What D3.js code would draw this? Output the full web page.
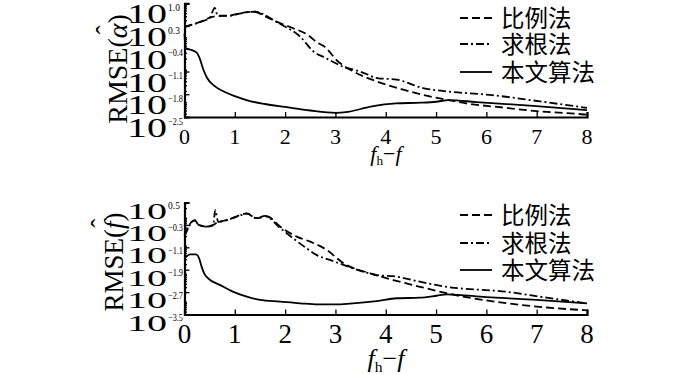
<!DOCTYPE html>
<html><head><meta charset="utf-8">
<script src="https://cdn.jsdelivr.net/npm/d3@7/dist/d3.min.js"></script>
<style>
body{margin:0;background:#fff;}
svg{display:block;}
text{fill:#000;}
</style></head>
<body><svg id="c" width="700" height="375"></svg>
<script>
// ---------- data (values are log10 of RMSE) ----------
const xTicks = [0,1,2,3,4,5,6,7,8];
const legendNames = ["比例法","求根法","本文算法"];

// top panel: RMSE(alpha-hat)
const alphaTicks = [1.0, 0.3, -0.4, -1.1, -1.8, -2.5];
const alphaRatioX = [0,0.3,0.6,0.9,1.0,1.2,1.4,1.6,1.9,2.15,2.45,2.65,2.78,3.05,3.3,3.83,4.35,4.74,5.14,5.6,6.4,7.07,7.6,8];
const alphaRatioY = [0.28,0.42,0.6,0.62,0.66,0.72,0.74,0.6,0.39,0.24,0.03,-0.22,-0.33,-0.79,-1.05,-1.41,-1.66,-1.82,-1.95,-2.08,-2.22,-2.33,-2.38,-2.43];
const alphaRootX = [0,0.3,0.5,0.6,0.66,0.9,1.2,1.4,1.6,1.8,2.3,2.57,2.8,3.15,3.49,3.83,4.22,4.74,5.2,6.07,7.07,8];
const alphaRootY = [0.27,0.42,0.55,0.86,0.62,0.62,0.72,0.74,0.64,0.45,-0.03,-0.49,-0.68,-0.95,-1.1,-1.3,-1.35,-1.61,-1.71,-1.82,-2.02,-2.22];
const alphaOursX = [0,0.02,0.15,0.25,0.3,0.38,0.45,0.6,0.8,1.0,1.3,1.6,2.0,2.5,3.0,3.25,3.7,4.2,4.7,5.0,5.25,5.8,6.93,8];
const alphaOursY = [0.08,-0.38,-0.44,-0.53,-0.69,-1.06,-1.3,-1.55,-1.73,-1.86,-2.01,-2.1,-2.19,-2.3,-2.37,-2.34,-2.18,-2.08,-2.06,-2.03,-1.98,-2.04,-2.16,-2.29];

// bottom panel: RMSE(f-hat)
const fTicks = [0.5, -0.3, -1.1, -1.9, -2.7, -3.5];
const fRatioX = [0,0.08,0.14,0.21,0.28,0.44,0.57,0.67,0.84,1.1,1.24,1.43,1.64,1.9,2.23,2.5,2.83,3.16,3.69,4.15,4.68,5.21,6.41,7.2,8];
const fRatioY = [-0.66,-0.36,-0.19,-0.13,-0.3,-0.36,-0.3,-0.19,-0.13,0.05,0.11,-0.06,0.0,-0.36,-0.72,-0.9,-1.2,-1.67,-2.03,-2.27,-2.51,-2.74,-3.1,-3.25,-3.35];
const fRootX = [0,0.08,0.14,0.21,0.28,0.44,0.57,0.61,0.67,0.84,1.1,1.24,1.43,1.6,1.9,2.16,2.43,2.63,2.89,3.16,3.82,4.22,4.68,5.21,6.41,7.2,8];
const fRootY = [-0.7,-0.4,-0.2,-0.15,-0.3,-0.36,-0.32,0.23,-0.19,-0.13,0.03,0.1,-0.06,0.02,-0.41,-0.78,-1.14,-1.38,-1.55,-1.73,-2.09,-2.15,-2.33,-2.51,-2.69,-2.9,-3.1];
const fOursX = [0,0.03,0.11,0.23,0.29,0.34,0.39,0.47,0.71,0.97,1.24,1.5,1.9,2.3,2.65,3.03,3.29,3.82,4.22,4.68,5.01,5.21,6.0,7.0,8];
const fOursY = [-1.5,-1.44,-1.35,-1.35,-1.49,-1.79,-2.03,-2.21,-2.45,-2.69,-2.86,-2.98,-3.04,-3.1,-3.14,-3.14,-3.11,-3.02,-2.92,-2.9,-2.83,-2.78,-2.88,-2.98,-3.1];

// ---------- drawing ----------
const svg = d3.select("#c");
const serif = "'Liberation Serif','Times New Roman',serif";
const cjk = "'Noto Sans CJK SC',sans-serif";
const dashes = ["8,4", "8,3,2,3", null];

function panel(cfg){
  const x = d3.scaleLinear().domain([0,8]).range([184.5,587]);
  const y = d3.scaleLinear().domain(cfg.domain).range(cfg.range);
  const g = svg.append("g");

  // series
  const line = d3.line().x(d=>x(d[0])).y(d=>y(d[1])).curve(d3.curveMonotoneX);
  cfg.series.forEach((s,i)=>{
    const pts = s[0].map((v,k)=>[v,s[1][k]]);
    g.append("path").attr("d",line(pts)).attr("fill","none")
      .attr("stroke","#000").attr("stroke-width",1.8)
      .attr("stroke-dasharray",dashes[i]);
  });

  // y axis (ticks inside)
  g.append("g").attr("transform",`translate(${x(0)},0)`)
    .call(d3.axisRight(y).tickValues(cfg.ticks).tickSize(5).tickFormat(""));
  // minor log ticks
  const minor=[];
  for(let n=-5;n<=2;n++) for(let k=2;k<=9;k++){const e=n+Math.log10(k); if(e>cfg.domain[0]&&e<cfg.domain[1]) minor.push(e);}
  g.append("g").attr("transform",`translate(${x(0)},0)`)
    .call(d3.axisRight(y).tickValues(minor).tickSize(2.5).tickFormat(""))
    .select(".domain").remove();
  // x axis (ticks inside)
  g.append("g").attr("transform",`translate(0,${y(cfg.domain[0])})`)
    .call(d3.axisTop(x).tickValues(xTicks).tickSize(5).tickFormat(""));
  g.selectAll(".domain").attr("stroke-width",2.2);
  g.selectAll(".tick line").attr("stroke-width",1.3);

  // x tick labels
  g.selectAll(".xl").data(xTicks).enter().append("text")
    .attr("x",d=>x(d)).attr("y",cfg.xLabelY).attr("text-anchor","middle")
    .style("font-family",serif).style("font-size",cfg.xFont+"px").text(d=>d);

  // y tick labels 10^e
  cfg.ticks.forEach(t=>{
    const ty = y(t);
    g.append("text").attr("x",127).attr("y",ty+cfg.tenOff)
      .attr("textLength",40).attr("lengthAdjust","spacingAndGlyphs")
      .style("font-family",serif).style("font-size",cfg.tenFont+"px").text("10");
    const s = d3.format(".1f")(t).replace("-","\u2212");
    const st = g.append("text").attr("x",168).attr("y",ty+cfg.supOff)
      .style("font-family",serif).style("font-size","9.5px").text(s);
    if (t < 0) st.attr("textLength",15).attr("lengthAdjust","spacingAndGlyphs");
  });

  // y title
  const tg = g.append("g").attr("transform",`translate(${cfg.titleX},${cfg.titleY}) rotate(-90)`);
  const tt = tg.append("text").attr("text-anchor","middle")
    .style("font-family",serif).style("font-size",cfg.titleFont+"px");
  tt.append("tspan").text("RMSE(");
  tt.append("tspan").style("font-style","italic").text(cfg.sym);
  tt.append("tspan").text(")");
  const node = tt.node();
  const p = node.getStartPositionOfChar(5);
  const w = node.getSubStringLength(5,1);
  tg.append("text").attr("x",p.x+w/2+cfg.hatDx).attr("y",p.y-cfg.titleFont*cfg.hatRise)
    .attr("text-anchor","middle").style("font-family",serif)
    .style("font-size",cfg.titleFont+"px").text("\u02C6");

  // x title f_h − f
  const xt = g.append("text").attr("x",386).attr("y",cfg.xTitleY).attr("text-anchor","middle")
    .style("font-family",serif).style("font-size",cfg.xTitleFont+"px");
  xt.append("tspan").style("font-style","italic").text("f");
  xt.append("tspan").attr("dy",cfg.xTitleFont*0.2).style("font-size",(cfg.xTitleFont*0.6)+"px").text("h");
  xt.append("tspan").attr("dy",-cfg.xTitleFont*0.2).text("\u2212");
  xt.append("tspan").style("font-style","italic").text("f");

  // legend
  legendNames.forEach((name,i)=>{
    const ly = cfg.legY[i];
    g.append("line").attr("x1",460).attr("x2",492).attr("y1",ly).attr("y2",ly)
      .attr("stroke","#000").attr("stroke-width",1.8).attr("stroke-dasharray",dashes[i]);
    g.append("text").attr("x",501).attr("y",ly+8.5)
      .style("font-family",cjk).style("font-size","23.5px").text(name);
  });
}

panel({
  domain:[-2.5,1.0], range:[117,3.3], ticks:alphaTicks,
  series:[[alphaRatioX,alphaRatioY],[alphaRootX,alphaRootY],[alphaOursX,alphaOursY]],
  xLabelY:144, xFont:22, tenFont:27, tenOff:20, supOff:7.5,
  titleX:127, titleY:69, titleFont:28, sym:"α", hatDx:1, hatRise:0.42,
  xTitleY:161, xTitleFont:22, legY:[18,44,72]
});
panel({
  domain:[-3.5,0.5], range:[314.5,202.5], ticks:fTicks,
  series:[[fRatioX,fRatioY],[fRootX,fRootY],[fOursX,fOursY]],
  xLabelY:343, xFont:27, tenFont:24, tenOff:16, supOff:6.5,
  titleX:123, titleY:262, titleFont:27, sym:"f", hatDx:2, hatRise:0.5,
  xTitleY:367, xTitleFont:26, legY:[215,243,270]
});
</script></body></html>
